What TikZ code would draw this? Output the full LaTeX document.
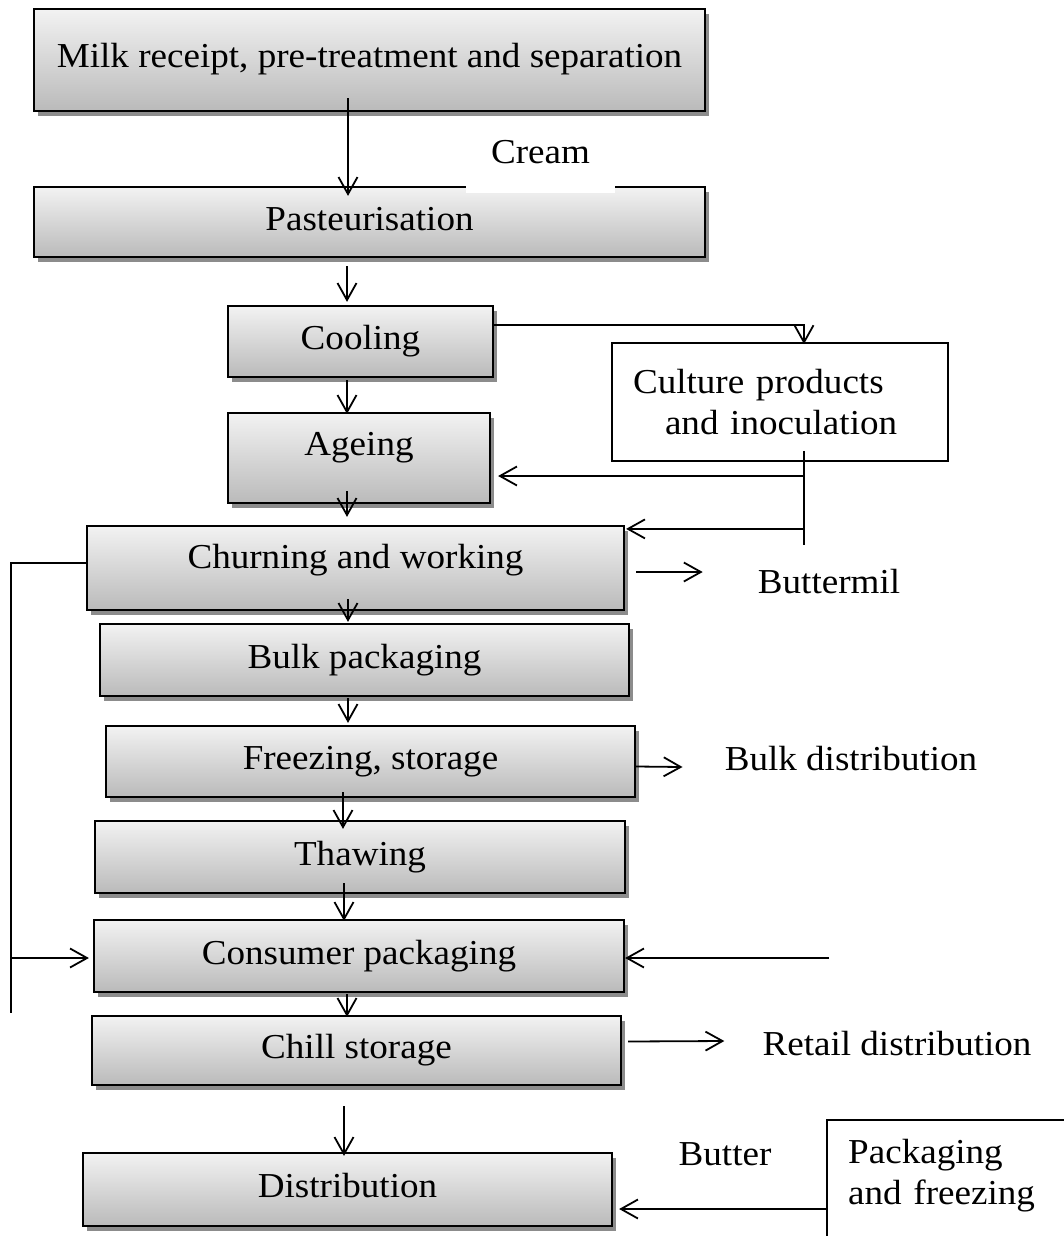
\documentclass[tikz,border=0pt]{standalone}
\usepackage{fontspec}
\setmainfont{Liberation Serif}[FakeStretch=1.06]
\usetikzlibrary{arrows.meta,calc,shadows}

\begin{document}
\begin{tikzpicture}[x=1pt,y=-1pt,
  every node/.style={font=\fontsize{35}{40.5}\selectfont},
  stagebox/.style={draw=black, line width=2.2pt, top color=black!5, bottom color=black!27,
    general shadow={fill=black!45, shadow xshift=4pt, shadow yshift=-5pt},
    inner sep=0pt, text height=24pt, text depth=8pt},
  plainbox/.style={draw=black, line width=1.8pt, fill=white, inner sep=0pt},
  lbl/.style={inner sep=0pt, text height=24pt, text depth=8pt},
  flow/.style={line width=1.8pt, -{Straight Barb[length=17pt,width=19pt,line width=1.8pt]}},
  link/.style={line width=1.8pt}
]
% page
\fill[white] (0,0) rectangle (1063,1236);
\useasboundingbox (0,0) rectangle (1063,1236);

% main process chain
\node[stagebox, minimum width=671pt, minimum height=102pt] (milk) at (369.5,60) {Milk receipt, pre-treatment and separation};
\node[stagebox, minimum width=671pt, minimum height=70pt] (past) at (369.5,222) {Pasteurisation};
\node[stagebox, minimum width=265pt, minimum height=71pt] (cool) at (360.5,341.5) {Cooling};
\node[stagebox, minimum width=262pt, minimum height=90pt, text depth=30pt] (age) at (359,458) {Ageing};
\node[stagebox, minimum width=537pt, minimum height=84pt, text depth=24pt] (churn) at (355.5,568) {Churning and working};
\node[stagebox, minimum width=529pt, minimum height=72pt] (bulk) at (364.5,660) {Bulk packaging};
\node[stagebox, minimum width=529pt, minimum height=71pt] (freeze) at (370.5,761.5) {Freezing, storage};
\node[stagebox, minimum width=530pt, minimum height=72pt] (thaw) at (360,857) {Thawing};
\node[stagebox, minimum width=530pt, minimum height=72pt] (cons) at (359,956) {Consumer packaging};
\node[stagebox, minimum width=529pt, minimum height=69pt] (chill) at (356.5,1050.5) {Chill storage};
\node[stagebox, minimum width=529pt, minimum height=73pt] (dist) at (347.5,1189.5) {Distribution};

% cream label sits on a white patch over the pasteurisation border
\node[lbl, fill=white, minimum width=149pt, minimum height=64pt, text depth=20pt] (cream) at (540.5,161) {Cream};

% side boxes
\node[plainbox, minimum width=336pt, minimum height=118pt, text width=294pt, inner xsep=21pt, align=left] (cult) at (780,402)
  {Culture products\\\hspace*{32pt}and inoculation};
\node[inner xsep=21pt, inner ysep=19pt, text width=240pt, anchor=north west, align=left] (pack) at (827,1120)
  {Packaging\\and freezing};
\draw[link] ($(pack.north west)+(0,150)$) -- (pack.north west) -- ($(pack.north east)+(60,0)$);

% outlet labels
\node[lbl] (bmilk) at (829,585) {Buttermil};
\node[lbl] (bulkd) at (851,762) {Bulk distribution};
\node[lbl] (retail) at (897,1047) {Retail distribution};
\node[lbl] (butter) at (725,1157) {Butter};

% vertical flow
\coordinate (ax) at (347,0);
\draw[flow] ($(milk.south -| ax)+(1,-14)$) -- ($(past.north -| ax)+(1,10)$);
\draw[flow] ($(past.south -| ax)+(0,8)$) -- ($(cool.north -| ax)+(0,-3)$);
\draw[flow] ($(cool.south -| ax)+(0,2)$) -- ($(age.north -| ax)+(0,2)$);
\draw[flow] ($(age.south -| ax)+(0,-13)$) -- ($(churn.north -| ax)+(0,-8)$);
\draw[flow] ($(churn.south -| ax)+(1,-12)$) -- ($(bulk.north -| ax)+(1,-1)$);
\draw[flow] ($(bulk.south -| ax)+(1,1)$) -- ($(freeze.north -| ax)+(1,-2)$);
\draw[flow] ($(freeze.south -| ax)+(-4,-6)$) -- ($(thaw.north -| ax)+(-4,9)$);
\draw[flow] ($(thaw.south -| ax)+(-3,-11)$) -- ($(cons.north -| ax)+(-3,2)$);
\draw[flow] ($(cons.south -| ax)+(0,1)$) -- ($(chill.north -| ax)+(0,2)$);
\draw[flow] ($(chill.south -| ax)+(-3,20)$) -- ($(dist.north -| ax)+(-3,4)$);

% culture branch
\coordinate (cx) at (804,0);
\draw[flow] ($(cool.north east)+(0,20)$) -| ($(cult.north -| cx)+(0,2)$);
\coordinate (ctop) at ($(cult.south -| cx)+(0,-11)$);
\coordinate (cbot) at ($(cult.south -| cx)+(0,83)$);
\draw[link] (ctop) -- (cbot);
\coordinate (agein) at ($(age.east)+(7,18)$);
\draw[flow] (agein -| cx) -- (agein);
\coordinate (churnin) at ($(churn.north east)+(1,4)$);
\draw[flow] (churnin -| cx) -- (churnin);

% bypass from churning to consumer packaging
\coordinate (lx) at (11,0);
\draw[link] ($(churn.west)+(0,-5)$) -| ($(cons.south -| lx)+(0,20)$);
\coordinate (consin) at ($(cons.west)+(-4,2)$);
\draw[flow] (consin -| lx) -- (consin);
\draw[flow] ($(cons.east)+(204,2)$) -- ($(cons.east)+(0,2)$);

% outlets
\draw[flow] ($(churn.east)+(11,4)$) -- ($(bmilk.west)+(-55,-13)$);
\draw[flow] ($(freeze.east)+(0,5)$) -- ($(bulkd.west)+(-42,5)$);
\draw[flow] ($(chill.east)+(6,-9)$) -- ($(retail.west)+(-38,-6)$);
\coordinate (distin) at ($(dist.east)+(6,19.5)$);
\draw[flow] (distin -| pack.west) -- (distin);
\end{tikzpicture}
\end{document}
